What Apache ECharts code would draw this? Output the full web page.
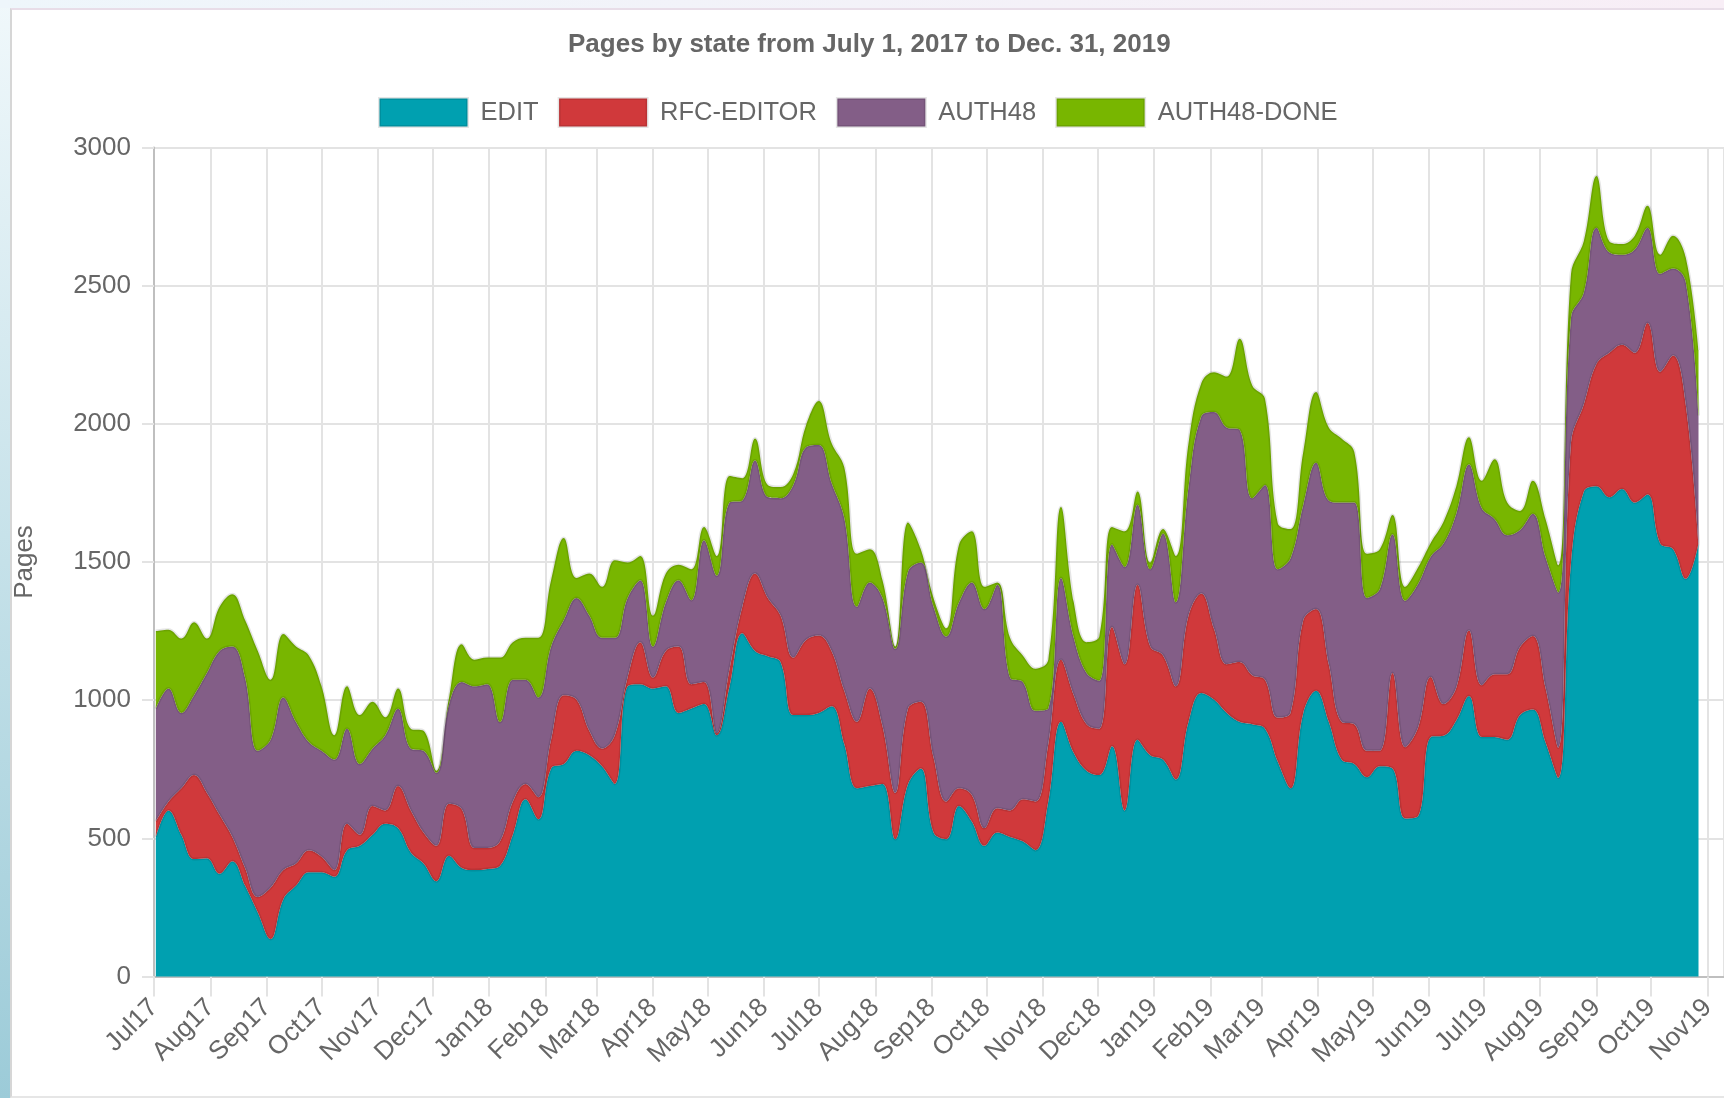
<!DOCTYPE html>
<html>
<head>
<meta charset="utf-8">
<title>Pages by state</title>
<script src="https://cdn.jsdelivr.net/npm/echarts@6/dist/echarts.min.js"></script>
<style>
  html, body { margin: 0; padding: 0; width: 1724px; height: 1098px; overflow: hidden; background: #fff; }
  .strip { position: absolute; left: 0; top: 0; width: 10px; height: 1098px; background: linear-gradient(#f0f8fb, #9ccbd8); }
  .band { position: absolute; left: 0; top: 0; width: 1724px; height: 8px; background: linear-gradient(90deg, #eef6fb, #f8eef6); }
  .frame { position: absolute; left: 10px; top: 8px; width: 1712px; height: 1086px; border-left: 2px solid #d6d6d6; border-top: 2px solid #e8dde8; border-bottom: 2px solid #e6e6e6; background: #fff; }
  #chart { position: absolute; left: 0; top: 0; width: 1724px; height: 1098px; }
</style>
</head>
<body>
<div class="strip"></div>
<div class="band"></div>
<div class="frame"></div>
<div id="chart"></div>
<script>
// weekly snapshots, first one on Sunday July 2, 2017
const firstWeek = [2017, 6, 2];
const seriesNames = ['EDIT', 'RFC-EDITOR', 'AUTH48', 'AUTH48-DONE'];
const colors = ['#00a0b0', '#d0393b', '#835e87', '#78b600'];
const monthNames = ['Jan', 'Feb', 'Mar', 'Apr', 'May', 'Jun', 'Jul', 'Aug', 'Sep', 'Oct', 'Nov', 'Dec'];
const yTicks = [0, 500, 1000, 1500, 2000, 2500, 3000];

const edit = [505, 601, 513, 425, 428, 372, 417, 329, 232, 136, 280, 329, 377, 377, 361, 457, 473, 513, 553, 537,
  449, 409, 345, 437, 393, 385, 389, 401, 513, 641, 569, 753, 769, 817, 801, 761, 697, 1050, 1058, 1042,
  1050, 954, 970, 986, 873, 1050, 1242, 1178, 1159, 1138, 946, 946, 954, 978, 841, 681, 689, 697, 497, 697,
  753, 521, 497, 617, 561, 473, 521, 505, 489, 457, 633, 922, 809, 745, 729, 833, 601, 857, 801, 785,
  713, 922, 1026, 1002, 954, 922, 913, 897, 777, 681, 954, 1034, 922, 785, 769, 721, 761, 753, 572, 580,
  867, 871, 926, 1015, 867, 867, 857, 946, 966, 848, 719, 1498, 1754, 1774, 1734, 1764, 1715, 1744, 1567, 1547,
  1439, 1567];

const rfcEditor = [56, 32, 168, 304, 237, 213, 88, 64, 56, 185, 105, 80, 80, 56, 24, 96, 40, 104, 48, 152,
  152, 112, 128, 188, 212, 80, 76, 88, 120, 56, 80, 104, 249, 185, 88, 64, 176, 32, 152, 40,
  128, 240, 88, 80, 7, 64, 96, 280, 211, 168, 208, 272, 280, 200, 193, 241, 353, 209, 168, 273,
  241, 272, 136, 64, 96, 64, 88, 96, 152, 176, 208, 224, 209, 168, 168, 432, 529, 561, 393, 377,
  337, 384, 360, 256, 176, 216, 177, 177, 160, 273, 336, 296, 208, 137, 144, 96, 56, 345, 258, 320,
  217, 115, 119, 237, 187, 227, 237, 246, 266, 197, 109, 434, 316, 443, 523, 522, 542, 621, 621, 700,
  631, 0];

const auth48 = [408, 409, 273, 289, 433, 593, 689, 689, 529, 536, 625, 512, 392, 384, 400, 344, 256, 208, 272, 280,
  224, 296, 264, 361, 461, 585, 593, 432, 441, 377, 361, 337, 272, 368, 417, 401, 353, 288, 224, 112,
  176, 240, 304, 513, 570, 601, 385, 409, 365, 425, 625, 697, 689, 609, 625, 416, 384, 464, 521, 496,
  504, 545, 597, 673, 769, 793, 809, 481, 425, 329, 129, 296, 208, 185, 173, 298, 352, 289, 280, 441,
  304, 465, 641, 785, 857, 841, 641, 705, 537, 560, 417, 529, 593, 793, 802, 553, 585, 502, 530, 520,
  436, 581, 630, 601, 641, 562, 503, 424, 443, 473, 562, 453, 404, 493, 364, 326, 374, 345, 355, 315,
  443, 463];

const auth48Done = [281, 213, 269, 264, 125, 160, 189, 208, 361, 217, 229, 273, 313, 233, 88, 153, 177, 169, 65, 73,
  72, 72, 8, 24, 136, 96, 96, 233, 136, 152, 216, 240, 297, 72, 152, 184, 280, 128, 88, 112,
  104, 56, 112, 48, 72, 96, 80, 80, 44, 40, 40, 80, 160, 144, 184, 192, 120, 64, 8, 177,
  48, 32, 30, 209, 185, 80, 8, 144, 96, 152, 176, 257, 128, 112, 160, 64, 129, 48, 24, 16,
  168, 160, 120, 144, 184, 329, 408, 312, 166, 105, 192, 256, 264, 232, 184, 160, 144, 70, 50, 60,
  50, 79, 99, 98, 99, 216, 118, 69, 119, 138, 98, 158, 187, 187, 40, 39, 50, 79, 69, 119,
  89, 237];

const weeks = edit.map((_, i) => new Date(firstWeek[0], firstWeek[1], firstWeek[2] + 7 * i));
const allValues = [edit, rfcEditor, auth48, auth48Done];

const font = '"Liberation Sans", Arial, Helvetica, sans-serif';
const chart = echarts.init(document.getElementById('chart'));

const option = {
  animation: false,
  textStyle: { fontFamily: font },
  title: {
    text: 'Pages by state from July 1, 2017 to Dec. 31, 2019',
    left: 563,
    top: 27,
    textStyle: { fontFamily: font, fontSize: 26, fontWeight: 'bold', color: '#666' }
  },
  legend: {
    data: seriesNames,
    top: 92,
    left: 373,
    icon: 'rect',
    itemWidth: 88,
    itemHeight: 28,
    itemGap: 19,
    itemStyle: { borderColor: 'rgba(0,0,0,0.1)', borderWidth: 3 },
    textStyle: { fontFamily: font, fontSize: 25.5, color: '#666', padding: [0, 0, 0, 8] }
  },
  grid: { left: 154, right: 0, top: 147.5, bottom: 121.5 },
  xAxis: {
    type: 'time',
    min: new Date(2017, 6, 1),
    max: new Date(2019, 10, 10),
    splitNumber: 28,
    minInterval: 28 * 864e5,
    maxInterval: 31 * 864e5,
    axisLine: { lineStyle: { color: '#bfbfbf', width: 2 } },
    axisTick: { show: true, length: 20, lineStyle: { color: '#e3e3e3', width: 2 } },
    splitLine: { show: true, lineStyle: { color: '#e3e3e3', width: 2 } },
    axisLabel: {
      rotate: 45,
      margin: 27,
      fontSize: 26,
      color: '#666',
      fontFamily: font,
      formatter: function (value) {
        const d = new Date(value);
        if (d.getDate() !== 1 || d.getHours() !== 0) return '';
        return monthNames[d.getMonth()] + String(d.getFullYear()).slice(2);
      }
    }
  },
  yAxis: {
    type: 'value',
    min: yTicks[0],
    max: yTicks[yTicks.length - 1],
    interval: 500,
    name: 'Pages',
    nameLocation: 'middle',
    nameGap: 116,
    nameTextStyle: { fontFamily: font, fontSize: 26, color: '#666' },
    axisLine: { show: true, lineStyle: { color: '#bfbfbf', width: 2 } },
    axisTick: { show: true, length: 12, lineStyle: { color: '#e3e3e3', width: 2 } },
    splitLine: { lineStyle: { color: '#e3e3e3', width: 2 } },
    axisLabel: { fontSize: 26, color: '#666', margin: 23, fontFamily: font, formatter: (v) => String(v) }
  },
  series: seriesNames.map((name, s) => ({
    name: name,
    type: 'line',
    stack: 'pages',
    smooth: 0.4,
    showSymbol: false,
    symbol: 'none',
    color: colors[s],
    itemStyle: { color: colors[s] },
    lineStyle: { color: 'rgba(0,0,0,0.1)', width: 3 },
    areaStyle: { color: colors[s], opacity: 1 },
    data: weeks.map((d, i) => [d, allValues[s][i]])
  }))
};

chart.setOption(option);
</script>
</body>
</html>
